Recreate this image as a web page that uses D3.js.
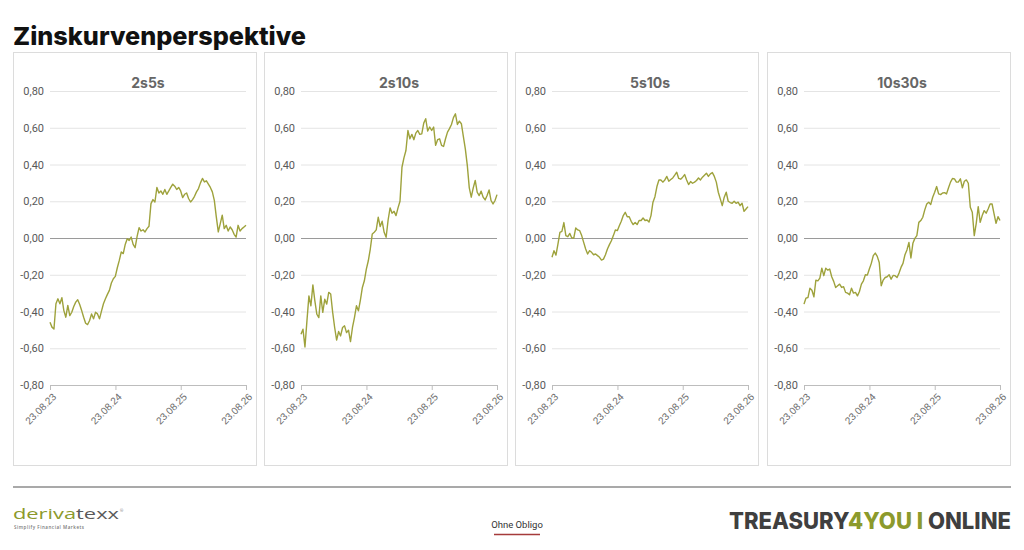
<!DOCTYPE html>
<html>
<head>
<meta charset="utf-8">
<script src="https://cdn.jsdelivr.net/npm/d3@7"></script>
<style>
  body { margin: 0; background: #fff; }
  svg { display: block; }
</style>
</head>
<body>
<svg width="1024" height="550"></svg>
<script>
// data
const titles = ["2s5s", "2s10s", "5s10s", "10s30s"];
const startDate = "2023-08-23";
const endDate = "2026-08-23";
const tickDates = ["2023-08-23", "2024-08-23", "2025-08-23", "2026-08-23"];
const yTicks = [-0.8, -0.6, -0.4, -0.2, 0, 0.2, 0.4, 0.6, 0.8];

const s2s5s = [
  -0.458, -0.485, -0.495, -0.358, -0.331, -0.358, -0.325, -0.395, -0.431, -0.367,
  -0.422, -0.404, -0.373, -0.349, -0.336, -0.362, -0.395, -0.431, -0.464, -0.471,
  -0.449, -0.413, -0.44, -0.404, -0.413, -0.44, -0.398, -0.358, -0.331, -0.307,
  -0.285, -0.245, -0.222, -0.209, -0.162, -0.122, -0.076, -0.085, -0.035, -0.004,
  -0.013, 0.005, -0.035, -0.053, 0.009, 0.056, 0.038, 0.045, 0.033, 0.051,
  0.064, 0.187, 0.209, 0.196, 0.275, 0.245, 0.256, 0.238, 0.264, 0.238,
  0.256, 0.275, 0.293, 0.282, 0.264, 0.275, 0.256, 0.22, 0.238, 0.245,
  0.215, 0.196, 0.209, 0.227, 0.251, 0.269, 0.3, 0.324, 0.305, 0.311,
  0.293, 0.275, 0.251, 0.205, 0.115, 0.033, 0.078, 0.124, 0.051, 0.069,
  0.038, 0.06, 0.045, 0.02, 0.005, 0.069, 0.038, 0.051, 0.06, 0.069
];
const s2s10s = [
  -0.524, -0.496, -0.593, -0.451, -0.315, -0.369, -0.255, -0.342, -0.415, -0.433,
  -0.315, -0.405, -0.333, -0.36, -0.296, -0.305, -0.405, -0.487, -0.556, -0.509,
  -0.533, -0.487, -0.478, -0.515, -0.502, -0.564, -0.487, -0.433, -0.369, -0.396,
  -0.338, -0.269, -0.233, -0.169, -0.124, -0.06, 0.022, 0.031, 0.044, 0.113,
  0.062, 0.091, 0.031, 0.004, 0.098, 0.164, 0.135, 0.145, 0.122, 0.164,
  0.2, 0.385, 0.436, 0.476, 0.585, 0.54, 0.564, 0.535, 0.571, 0.585,
  0.564, 0.567, 0.625, 0.649, 0.582, 0.604, 0.585, 0.604, 0.504, 0.535,
  0.54, 0.504, 0.498, 0.54, 0.576, 0.595, 0.618, 0.655, 0.676, 0.618,
  0.636, 0.622, 0.553, 0.485, 0.395, 0.273, 0.222, 0.273, 0.313, 0.249,
  0.231, 0.255, 0.222, 0.207, 0.231, 0.262, 0.204, 0.185, 0.204, 0.236
];
const s5s10s = [
  -0.105, -0.069, -0.093, -0.033, 0.031, 0.036, 0.084, 0.013, 0.007, 0.025,
  0, 0, 0.055, 0.044, 0.04, 0.013, -0.024, -0.06, -0.087, -0.069,
  -0.078, -0.091, -0.087, -0.096, -0.105, -0.12, -0.115, -0.091, -0.06, -0.036,
  -0.015, 0.013, 0.044, 0.04, 0.067, 0.091, 0.122, 0.14, 0.116, 0.116,
  0.091, 0.073, 0.084, 0.073, 0.095, 0.095, 0.109, 0.095, 0.098, 0.087,
  0.122, 0.195, 0.225, 0.28, 0.316, 0.316, 0.304, 0.316, 0.335, 0.309,
  0.318, 0.327, 0.342, 0.358, 0.324, 0.32, 0.331, 0.345, 0.316, 0.291,
  0.307, 0.298, 0.304, 0.313, 0.327, 0.316, 0.331, 0.342, 0.353, 0.335,
  0.349, 0.356, 0.335, 0.304, 0.249, 0.213, 0.176, 0.222, 0.249, 0.2,
  0.193, 0.189, 0.2, 0.189, 0.195, 0.176, 0.189, 0.145, 0.158, 0.171
];
const s10s30s = [
  -0.36, -0.327, -0.324, -0.273, -0.284, -0.32, -0.229, -0.233, -0.218, -0.164,
  -0.205, -0.164, -0.175, -0.169, -0.211, -0.236, -0.269, -0.26, -0.251, -0.269,
  -0.265, -0.296, -0.3, -0.309, -0.273, -0.3, -0.296, -0.315, -0.291, -0.251,
  -0.233, -0.2, -0.202, -0.169, -0.138, -0.096, -0.082, -0.1, -0.133, -0.26,
  -0.229, -0.215, -0.211, -0.2, -0.224, -0.204, -0.205, -0.215, -0.191, -0.16,
  -0.138, -0.091, -0.065, -0.024, -0.109, -0.029, -0.002, 0.013, 0.085, 0.095,
  0.113, 0.153, 0.185, 0.195, 0.182, 0.222, 0.249, 0.28, 0.24, 0.236,
  0.245, 0.247, 0.24, 0.273, 0.304, 0.324, 0.322, 0.304, 0.305, 0.322,
  0.273, 0.309, 0.316, 0.298, 0.167, 0.14, 0.013, 0.08, 0.171, 0.085,
  0.122, 0.149, 0.135, 0.158, 0.185, 0.185, 0.131, 0.08, 0.116, 0.095
];
const seriesList = [s2s5s, s2s10s, s5s10s, s10s30s];

// layout
const svg = d3.select("svg");
const lineColor = "#9ea23c";
const panelX = [13, 264, 515, 767];
const panelW = 244, panelTop = 52, panelH = 413;
const plotLeft = 37, plotW = 196;
const plotTop = 91, plotBottom = 385;

const parse = d3.timeParse("%Y-%m-%d");
const t0 = parse(startDate), t1 = parse(endDate);
const de = d3.formatLocale({ decimal: ",", thousands: ".", grouping: [3], currency: ["", " €"], minus: "-" });
const yFmt = de.format(".2f");
const xFmt = d3.timeFormat("%d.%m.%y");

// title
svg.append("text")
  .attr("x", 13)
  .attr("y", 45)
  .attr("font-family", "Inter, 'Noto Sans', sans-serif")
  .attr("font-weight", 800)
  .attr("font-size", "25px")
  .attr("textLength", 293)
  .attr("lengthAdjust", "spacingAndGlyphs")
  .attr("fill", "#111")
  .text("Zinskurvenperspektive");

seriesList.forEach((values, k) => {
  const px = panelX[k];
  const g = svg.append("g").attr("transform", `translate(${px},0)`);

  // panel frame
  g.append("rect")
    .attr("x", 0.5).attr("y", panelTop + 0.5)
    .attr("width", panelW - 1).attr("height", panelH)
    .attr("fill", "#fff")
    .attr("stroke", "#dcdcdc");

  const x = d3.scaleTime().domain([t0, t1]).range([plotLeft, plotLeft + plotW]);
  const y = d3.scaleLinear().domain([-0.8, 0.8]).range([plotBottom, plotTop]);

  // gridlines + left labels
  const leftAxis = d3.axisLeft(y)
    .tickValues(yTicks)
    .tickSize(-plotW)
    .tickPadding(6)
    .tickFormat(yFmt);
  const ga = g.append("g")
    .attr("class", "left axis")
    .attr("transform", `translate(${plotLeft},0)`)
    .call(leftAxis);
  ga.select(".domain").remove();
  ga.selectAll(".tick line")
    .attr("stroke", d => (d === 0 ? "#9a9a9a" : "#e4e4e4"))
    .attr("stroke-width", d => (d === 0 ? 1.2 : 1));
  ga.selectAll(".tick").filter(d => d === -0.8).select("line").remove();
  ga.selectAll("text")
    .attr("font-family", "Roboto, 'Noto Sans', sans-serif")
    .attr("font-size", "11px")
    .attr("fill", "#595959");

  // bottom axis
  const bottomAxis = d3.axisBottom(x)
    .tickValues(tickDates.map(parse))
    .tickSize(5)
    .tickSizeOuter(0)
    .tickFormat(xFmt);
  const gb = g.append("g")
    .attr("class", "bottom axis")
    .attr("transform", `translate(0,${plotBottom})`)
    .call(bottomAxis);
  gb.select(".domain").attr("stroke", "#bdbdbd");
  gb.selectAll(".tick line").attr("stroke", "#bdbdbd");
  gb.selectAll("text")
    .attr("font-family", "Arial, 'Liberation Sans', sans-serif")
    .attr("font-size", "10px")
    .attr("fill", "#6b6b6b")
    .attr("text-anchor", "end")
    .attr("x", 0)
    .attr("y", 0)
    .attr("dy", "0.35em")
    .attr("transform", "translate(4,10) rotate(-45)");

  // panel heading
  g.append("text")
    .attr("x", plotLeft + plotW / 2)
    .attr("y", 88)
    .attr("text-anchor", "middle")
    .attr("font-family", "Inter, 'Noto Sans', sans-serif")
    .attr("font-weight", 700)
    .attr("font-size", "14px")
    .attr("fill", "#666")
    .text(titles[k]);

  // series
  const n = values.length;
  const pts = values.map((v, i) => [new Date(+t0 + (t1 - t0) * i / (n - 1)), v]);
  const line = d3.line().x(d => x(d[0])).y(d => y(d[1]));
  g.append("path")
    .datum(pts)
    .attr("d", line)
    .attr("fill", "none")
    .attr("stroke", lineColor)
    .attr("stroke-width", 1.4)
    .attr("stroke-linejoin", "round");
});

// footer
svg.append("line")
  .attr("x1", 13).attr("x2", 1011)
  .attr("y1", 487).attr("y2", 487)
  .attr("stroke", "#a9a9a9")
  .attr("stroke-width", 2);

const logo = svg.append("text")
  .attr("x", 13)
  .attr("y", 519)
  .attr("font-family", "'Open Sans', sans-serif")
  .attr("font-weight", 400)
  .attr("font-size", "15px")
  .attr("textLength", 106)
  .attr("lengthAdjust", "spacingAndGlyphs");
logo.append("tspan").attr("fill", "#8c9a2c").text("deriva");
logo.append("tspan").attr("fill", "#5a5a5a").text("texx");
svg.append("text")
  .attr("x", 120)
  .attr("y", 512)
  .attr("font-family", "'Open Sans', sans-serif")
  .attr("font-size", "4px")
  .attr("fill", "#777")
  .text("®");
svg.append("text")
  .attr("x", 14)
  .attr("y", 529)
  .attr("font-family", "'Open Sans', sans-serif")
  .attr("font-size", "4.5px")
  .attr("font-weight", 600)
  .attr("fill", "#777")
  .attr("textLength", 70)
  .text("Simplify Financial Markets");

svg.append("text")
  .attr("x", 517)
  .attr("y", 528)
  .attr("text-anchor", "middle")
  .attr("font-family", "Roboto, sans-serif")
  .attr("font-size", "9.5px")
  .attr("fill", "#333")
  .text("Ohne Obligo");
svg.append("line")
  .attr("x1", 494).attr("x2", 540)
  .attr("y1", 534.5).attr("y2", 534.5)
  .attr("stroke", "#a53b3b")
  .attr("stroke-width", 1.5);

const brand = svg.append("text")
  .attr("x", 729)
  .attr("y", 529)
  .attr("font-family", "Inter, 'Noto Sans', sans-serif")
  .attr("font-weight", 800)
  .attr("font-size", "23px")
  .attr("textLength", 282)
  .attr("lengthAdjust", "spacingAndGlyphs");
brand.append("tspan").attr("fill", "#3f3f3f").text("TREASURY");
brand.append("tspan").attr("fill", "#8c9a2c").text("4YOU I ");
brand.append("tspan").attr("fill", "#3f3f3f").text("ONLINE");
</script>
</body>
</html>
